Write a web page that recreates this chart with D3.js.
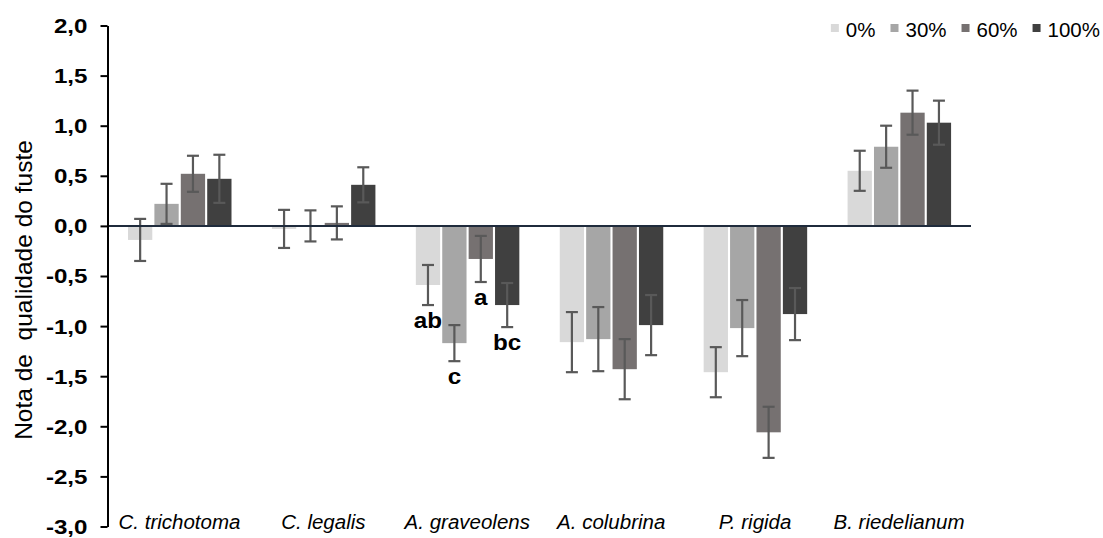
<!DOCTYPE html>
<html>
<head>
<meta charset="utf-8">
<script src="https://cdn.jsdelivr.net/npm/d3@7"></script>
<style>
  html, body { margin: 0; padding: 0; background: #fff; }
  svg { display: block; font-family: "Liberation Sans", Arial, sans-serif; }
</style>
</head>
<body>
<svg id="chart" width="1103" height="538"></svg>
<script>
// Species along the x axis
const species = ["C. trichotoma", "C. legalis", "A. graveolens", "A. colubrina", "P. rigida", "B. riedelianum"];
// Shading levels
const levels = ["0%", "30%", "60%", "100%"];
const levelColors = ["#d9d9d9", "#a6a6a6", "#767171", "#404040"];

// Mean stem quality score per species, one array per shading level
const mean0   = [-0.14, -0.03, -0.59, -1.16, -1.46, 0.55];
const mean30  = [ 0.22,  0.00, -1.17, -1.13, -1.02, 0.79];
const mean60  = [ 0.52,  0.03, -0.33, -1.43, -2.06, 1.13];
const mean100 = [ 0.47,  0.41, -0.79, -0.99, -0.88, 1.03];

// Standard error per species, one array per shading level
const err0   = [0.21, 0.19, 0.20, 0.30, 0.25, 0.20];
const err30  = [0.20, 0.155, 0.18, 0.32, 0.28, 0.21];
const err60  = [0.18, 0.165, 0.23, 0.30, 0.255, 0.22];
const err100 = [0.24, 0.175, 0.22, 0.30, 0.26, 0.22];

// Mean-comparison letters for A. graveolens
const letterSpecies = "A. graveolens";
const letters = ["ab", "c", "a", "bc"];

const yTicks = [2, 1.5, 1, 0.5, 0, -0.5, -1, -1.5, -2, -2.5, -3];

const means = [mean0, mean30, mean60, mean100];
const errs = [err0, err30, err60, err100];

const svg = d3.select("#chart");

const x = d3.scaleBand().domain(species).range([107.5, 971]).paddingInner(0).paddingOuter(0);
const xs = d3.scaleBand().domain(levels).range([20.5, 124]).paddingInner(0.08).paddingOuter(0);
const y = d3.scaleLinear().domain([-3, 2]).range([526.5, 25.5]);

// Flatten into one record per bar
const records = [];
species.forEach((sp, i) => {
  levels.forEach((lv, j) => {
    records.push({ sp, lv, j, v: means[j][i], e: errs[j][i] });
  });
});

const bx = d => x(d.sp) + xs(d.lv);
const cx = d => bx(d) + xs.bandwidth() / 2;

// Bars
svg.append("g").selectAll("rect").data(records).join("rect")
  .attr("x", bx)
  .attr("width", xs.bandwidth())
  .attr("y", d => Math.min(y(d.v), y(0)))
  .attr("height", d => Math.abs(y(d.v) - y(0)))
  .attr("fill", d => levelColors[d.j]);

// Error bars
const eb = svg.append("g").attr("stroke", "#595959").attr("stroke-width", 2.2).attr("fill", "none");
eb.selectAll("line.stem").data(records).join("line").attr("class", "stem")
  .attr("x1", cx).attr("x2", cx)
  .attr("y1", d => y(d.v + d.e)).attr("y2", d => y(d.v - d.e));
eb.selectAll("line.capT").data(records).join("line").attr("class", "capT")
  .attr("x1", d => cx(d) - 6).attr("x2", d => cx(d) + 6)
  .attr("y1", d => y(d.v + d.e)).attr("y2", d => y(d.v + d.e));
eb.selectAll("line.capB").data(records).join("line").attr("class", "capB")
  .attr("x1", d => cx(d) - 6).attr("x2", d => cx(d) + 6)
  .attr("y1", d => y(d.v - d.e)).attr("y2", d => y(d.v - d.e));

// Letters under the A. graveolens bars
svg.append("g").selectAll("text")
  .data(records.filter(d => d.sp === letterSpecies))
  .join("text")
  .attr("transform", d => `translate(${cx(d)},${y(d.v - d.e) + 22.5}) scale(1.1,1)`)
  .attr("text-anchor", "middle")
  .attr("font-size", 22)
  .attr("font-weight", "bold")
  .attr("fill", "#000")
  .text(d => letters[d.j]);

// Zero line
svg.append("line")
  .attr("x1", 107.5).attr("x2", 971)
  .attr("y1", y(0)).attr("y2", y(0))
  .attr("stroke", "#1f2b3c").attr("stroke-width", 2);

// Y axis
const yAxis = d3.axisLeft(y).tickValues(yTicks).tickSize(7).tickSizeOuter(0)
  .tickFormat(d => d3.format(".1f")(d).replace(".", ",").replace("−", "-"));
const gy = svg.append("g").attr("transform", "translate(107.5,0)").call(yAxis);
gy.select(".domain").attr("stroke", "#000").attr("stroke-width", 2);
gy.selectAll(".tick line").attr("stroke", "#000").attr("stroke-width", 2);
gy.selectAll(".tick text")
  .attr("x", 0)
  .attr("transform", "translate(-20,0) scale(1.15,1)")
  .attr("dy", "0.33em")
  .attr("font-family", "'Liberation Sans', Arial, sans-serif")
  .attr("font-size", 21)
  .attr("font-weight", "bold")
  .attr("fill", "#000");

// Species labels
svg.append("g").selectAll("text").data(species).join("text")
  .attr("x", d => x(d) + x.bandwidth() / 2)
  .attr("y", 529)
  .attr("text-anchor", "middle")
  .attr("font-size", 20.5)
  .attr("font-style", "italic")
  .attr("fill", "#000")
  .text(d => d);

// Y title
svg.append("text")
  .attr("transform", "translate(31.5,290) rotate(-90)")
  .attr("text-anchor", "middle")
  .attr("font-size", 24.5)
  .attr("fill", "#000")
  .style("white-space", "pre")
  .text("Nota de  qualidade do fuste");

// Legend, laid out right-aligned at the top
const legend = svg.append("g");
const items = legend.selectAll("g").data(levels).join("g");
items.append("rect").attr("width", 8).attr("height", 8).attr("y", 24)
  .attr("fill", (d, i) => levelColors[i]);
items.append("text").attr("x", 15).attr("y", 36.7)
  .attr("font-size", 20.5).attr("fill", "#000").text(d => d);
let widths = [];
items.each(function () { widths.push(15 + d3.select(this).select("text").node().getComputedTextLength()); });
const gap = 15;
const total = d3.sum(widths) + gap * (levels.length - 1);
let cur = 1100 - total;
items.attr("transform", (d, i) => { const t = `translate(${cur},0)`; cur += widths[i] + gap; return t; });
</script>
</body>
</html>
